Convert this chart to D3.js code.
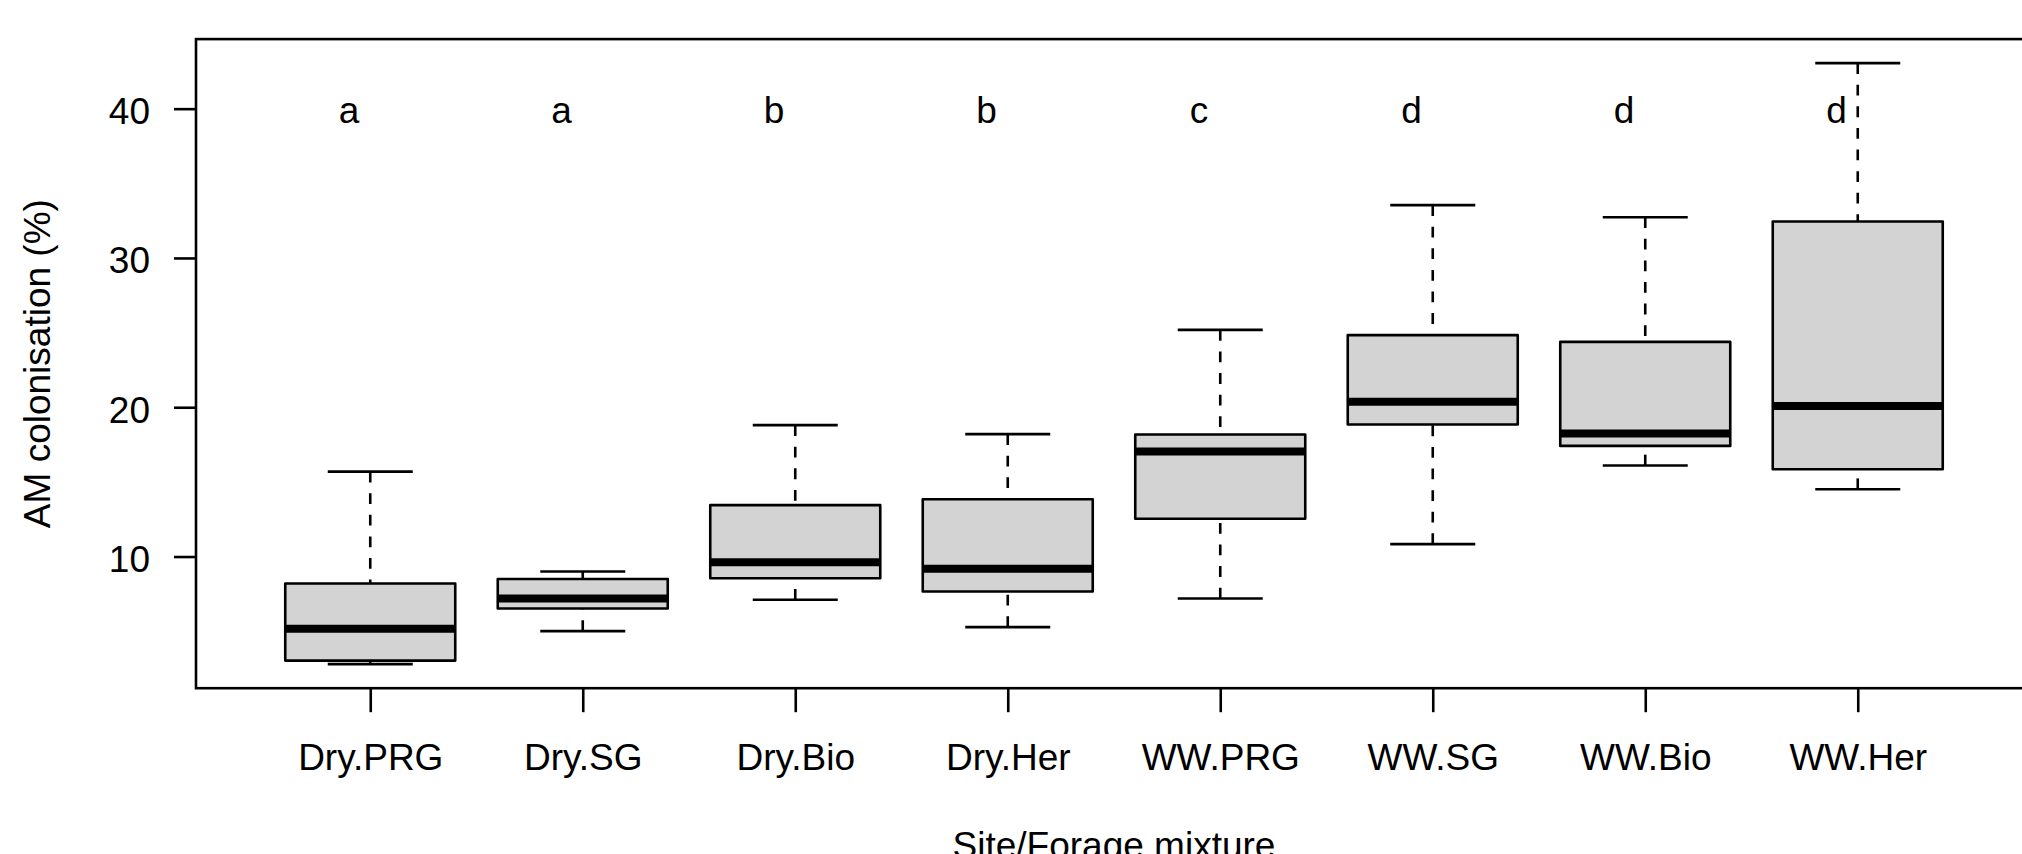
<!DOCTYPE html>
<html>
<head>
<meta charset="utf-8">
<script src="https://cdn.jsdelivr.net/npm/d3@7"></script>
<style>
  html, body { margin: 0; padding: 0; background: #fff; }
  svg { display: block; }
  text { font-family: "Liberation Sans", Arial, sans-serif; fill: #000; }
</style>
</head>
<body>
<svg id="chart" width="2022" height="854"></svg>
<script>
// ---- data ----
const categories  = ["Dry.PRG", "Dry.SG", "Dry.Bio", "Dry.Her", "WW.PRG", "WW.SG", "WW.Bio", "WW.Her"];
const whiskerLow  = [2.79, 5.00, 7.10, 5.27, 7.19, 10.83, 16.10, 14.51];
const quartile1   = [3.03, 6.52, 8.55, 7.66, 12.53, 18.84, 17.41, 15.85];
const medians     = [5.16, 7.19, 9.62, 9.18, 17.03, 20.36, 18.24, 20.09];
const quartile3   = [8.19, 8.49, 13.44, 13.84, 18.17, 24.83, 24.38, 32.44];
const whiskerHigh = [15.69, 9.00, 18.80, 18.20, 25.18, 33.54, 32.73, 43.05];
const groupLetters = ["a", "a", "b", "b", "c", "d", "d", "d"];
const yTicks = [10, 20, 30, 40];
const letterLevel = 40;
const xTitle = "Site/Forage mixture";
const yTitle = "AM colonisation (%)";

const rows = categories.map((c, i) => ({
  cat: c, pos: i + 1,
  lo: whiskerLow[i], q1: quartile1[i], med: medians[i], q3: quartile3[i], hi: whiskerHigh[i],
  letter: groupLetters[i]
}));

// ---- layout ----
const svg = d3.select("#chart");
const plotL = 196, plotR = 2032, plotT = 39.1, plotB = 688.2;
const lw = 2.6, medLw = 8;
const fs = 37;

const x = d3.scaleLinear().domain([0.18, categories.length + 0.82]).range([plotL, plotR]);
const y = d3.scaleLinear().domain([1.18, 44.66]).range([plotB, plotT]);

const boxW = x(1.4) - x(1);     // half of boxwex 0.8
const capW = x(1.2) - x(1);     // half of staple 0.4

const g = svg.append("g");

// whiskers (dashed, drawn from the extreme toward the hinge)
g.selectAll(".wh-hi").data(rows).join("line")
  .attr("x1", d => x(d.pos)).attr("x2", d => x(d.pos))
  .attr("y1", d => y(d.hi)).attr("y2", d => y(d.q3))
  .attr("stroke", "#000").attr("stroke-width", lw).attr("stroke-dasharray", "10.8,10.8");
g.selectAll(".wh-lo").data(rows).join("line")
  .attr("x1", d => x(d.pos)).attr("x2", d => x(d.pos))
  .attr("y1", d => y(d.lo)).attr("y2", d => y(d.q1))
  .attr("stroke", "#000").attr("stroke-width", lw).attr("stroke-dasharray", "10.8,10.8");

// staples
["hi", "lo"].forEach(k => {
  g.selectAll(".cap-" + k).data(rows).join("line")
    .attr("x1", d => x(d.pos) - capW).attr("x2", d => x(d.pos) + capW)
    .attr("y1", d => y(d[k])).attr("y2", d => y(d[k]))
    .attr("stroke", "#000").attr("stroke-width", lw);
});

// boxes
g.selectAll(".box").data(rows).join("rect")
  .attr("x", d => x(d.pos) - boxW).attr("width", 2 * boxW)
  .attr("y", d => y(d.q3)).attr("height", d => y(d.q1) - y(d.q3))
  .attr("fill", "#d3d3d3").attr("stroke", "#000").attr("stroke-width", lw)
  .attr("stroke-linejoin", "round");

// medians
g.selectAll(".med").data(rows).join("line")
  .attr("x1", d => x(d.pos) - boxW).attr("x2", d => x(d.pos) + boxW)
  .attr("y1", d => y(d.med)).attr("y2", d => y(d.med))
  .attr("stroke", "#000").attr("stroke-width", medLw);

// significance letters
g.selectAll(".letter").data(rows).join("text")
  .attr("x", d => x(d.pos - 0.1)).attr("y", y(letterLevel)).attr("dy", "0.4em")
  .attr("text-anchor", "middle").attr("font-size", fs)
  .text(d => d.letter);

// axes
const yAxis = d3.axisLeft(y).tickValues(yTicks).tickSize(22).tickSizeOuter(0).tickPadding(24);
const ya = svg.append("g").attr("transform", `translate(${plotL},0)`).call(yAxis);
ya.select(".domain").remove();
ya.selectAll(".tick line").attr("stroke", "#000").attr("stroke-width", lw);
ya.selectAll(".tick text").attr("font-size", fs).attr("font-family", "Liberation Sans, Arial, sans-serif")
  .attr("dy", "0.4em").attr("fill", "#000");

const xAxis = d3.axisBottom(x).tickValues(rows.map(d => d.pos))
  .tickFormat((d, i) => categories[i]).tickSize(24).tickSizeOuter(0).tickPadding(31.5);
const xa = svg.append("g").attr("transform", `translate(0,${plotB})`).call(xAxis);
xa.select(".domain").remove();
xa.selectAll(".tick line").attr("stroke", "#000").attr("stroke-width", lw);
xa.selectAll(".tick text").attr("font-size", fs).attr("font-family", "Liberation Sans, Arial, sans-serif")
  .attr("fill", "#000");

// plot frame
svg.append("rect")
  .attr("x", plotL).attr("y", plotT).attr("width", plotR - plotL).attr("height", plotB - plotT)
  .attr("fill", "none").attr("stroke", "#000").attr("stroke-width", lw);

// titles
svg.append("text")
  .attr("transform", `translate(50,${(plotT + plotB) / 2}) rotate(-90)`)
  .attr("text-anchor", "middle").attr("font-size", fs).text(yTitle);
svg.append("text")
  .attr("x", (plotL + plotR) / 2).attr("y", 858)
  .attr("text-anchor", "middle").attr("font-size", fs).text(xTitle);
</script>
</body>
</html>
